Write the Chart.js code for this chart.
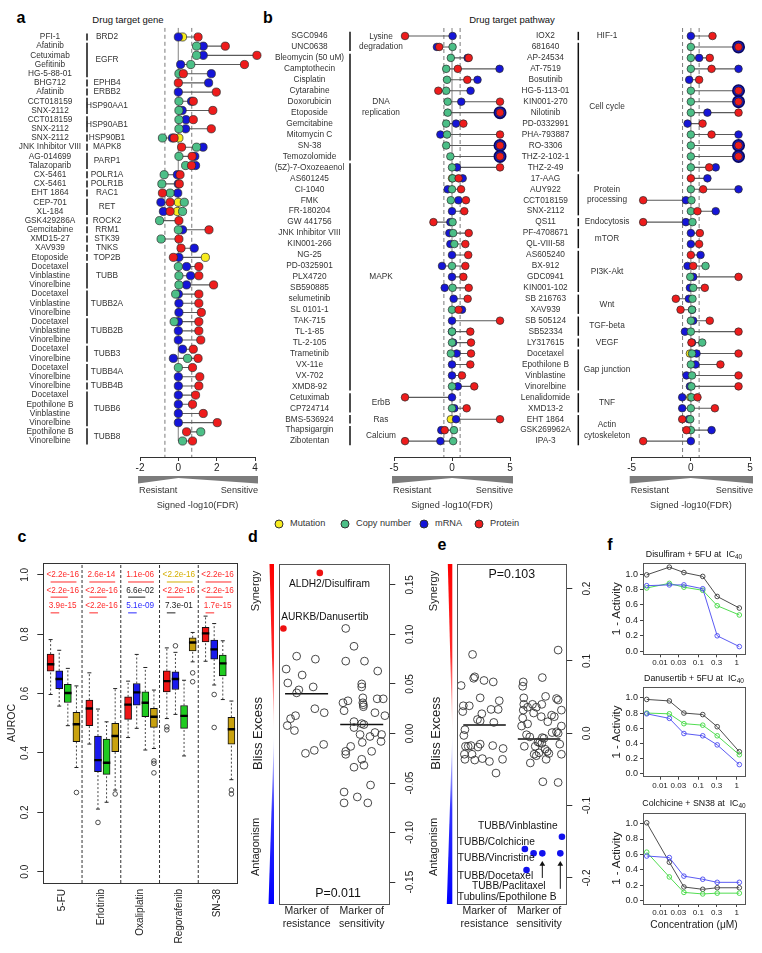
<!DOCTYPE html>
<html>
<head>
<meta charset="utf-8">
<title>Drug target markers</title>
<script src="https://cdn.jsdelivr.net/npm/chart.js@4.4.1/dist/chart.umd.min.js"></script>
<style>
  html, body { margin: 0; padding: 0; background: #fff; }
  #fig { position: relative; width: 762px; height: 953px; overflow: hidden;
         font-family: 'Liberation Sans', Arial, sans-serif; color: #222; }
  #fig canvas { position: absolute; }
  .t { position: absolute; white-space: nowrap; line-height: 1; transform: translate(-50%, -50%); }
  .l { position: absolute; white-space: nowrap; line-height: 1; transform: translate(0, -50%); font-size: 9.2px; color: #333; }
  .letter { font-weight: bold; font-size: 16px; color: #000; }
  .title { font-size: 9.5px; color: #111; }
  .dot { position: absolute; width: 7px; height: 7px; border-radius: 50%; border: 0.8px solid #333; transform: translate(-50%, -50%); }
</style>
</head>
<body>
<div id="fig">
  <div class="t letter" style="left:21px;top:18px">a</div>
  <div class="t letter" style="left:268px;top:18px">b</div>
  <div class="t letter" style="left:22px;top:537px">c</div>
  <div class="t letter" style="left:253px;top:537px">d</div>
  <div class="t letter" style="left:442px;top:545px">e</div>
  <div class="t letter" style="left:610px;top:545px">f</div>
  <div class="t title" style="left:128px;top:20px">Drug target gene</div>
  <div class="t title" style="left:512px;top:20px">Drug target pathway</div>

  <div class="dot" style="left:279px;top:524px;background:#f8ec1e"></div>
  <div class="l" style="left:290px;top:524px">Mutation</div>
  <div class="dot" style="left:345px;top:524px;background:#4cbf87"></div>
  <div class="l" style="left:356px;top:524px">Copy number</div>
  <div class="dot" style="left:424px;top:524px;background:#1515d8"></div>
  <div class="l" style="left:435px;top:524px">mRNA</div>
  <div class="dot" style="left:479px;top:524px;background:#ee1c1c"></div>
  <div class="l" style="left:490px;top:524px">Protein</div>

  <canvas id="cA" width="262" height="520" style="left:0;top:0"></canvas>
  <canvas id="cBL" width="258" height="520" style="left:262px;top:0"></canvas>
  <canvas id="cBR" width="252" height="520" style="left:510px;top:0"></canvas>
  <canvas id="cC" width="245" height="423" style="left:0;top:530px"></canvas>
  <canvas id="cD" width="180" height="423" style="left:245px;top:530px"></canvas>
  <canvas id="cE" width="175" height="423" style="left:425px;top:530px"></canvas>
  <canvas id="cF1" width="167" height="135" style="left:595px;top:540px"></canvas>
  <canvas id="cF2" width="167" height="135" style="left:595px;top:665px"></canvas>
  <canvas id="cF3" width="167" height="160" style="left:595px;top:790px"></canvas>
</div>
<script>
// ---------------- panel a : drug target gene ----------------
const aDrugs = ['PFI-1', 'Afatinib', 'Cetuximab', 'Gefitinib', 'HG-5-88-01', 'BHG712', 'Afatinib',
  'CCT018159', 'SNX-2112', 'CCT018159', 'SNX-2112', 'SNX-2112', 'JNK Inhibitor VIII', 'AG-014699',
  'Talazoparib', 'CX-5461', 'CX-5461', 'EHT 1864', 'CEP-701', 'XL-184', 'GSK429286A', 'Gemcitabine',
  'XMD15-27', 'XAV939', 'Etoposide', 'Docetaxel', 'Vinblastine', 'Vinorelbine', 'Docetaxel',
  'Vinblastine', 'Vinorelbine', 'Docetaxel', 'Vinblastine', 'Vinorelbine', 'Docetaxel', 'Vinorelbine',
  'Docetaxel', 'Vinorelbine', 'Vinorelbine', 'Docetaxel', 'Epothilone B', 'Vinblastine', 'Vinorelbine',
  'Epothilone B', 'Vinorelbine'];
const aGenes = [['BRD2', 1], ['EGFR', 4], ['EPHB4', 1], ['ERBB2', 1], ['HSP90AA1', 2], ['HSP90AB1', 2],
  ['HSP90B1', 1], ['MAPK8', 1], ['PARP1', 2], ['POLR1A', 1], ['POLR1B', 1], ['RAC1', 1], ['RET', 2],
  ['ROCK2', 1], ['RRM1', 1], ['STK39', 1], ['TNKS', 1], ['TOP2B', 1], ['TUBB', 3], ['TUBB2A', 3],
  ['TUBB2B', 3], ['TUBB3', 2], ['TUBB4A', 2], ['TUBB4B', 1], ['TUBB6', 4], ['TUBB8', 2]];
const aProtein = [1.03, 2.45, 4.1, 3.45, 0.26, 0, 1.98, 0.78, 1.8, 0.78,
  1.72, -0.22, 0.17, 0.72, 0.69, 0.09, 0.05, -0.83, -0.43, -0.43,
  0.03, 1.6, 0.03, 0.14, -0.26, 1.07, 1.07, 1.84, 1.07, 1.07,
  1.2, 1.07, 1.07, 1.17, 0.78, 1.03, 0.74, 1.12, 1.07, 0.9,
  0.74, 1.3, 2.03, 0.43, 0.74];
const aCopyNumber = [null, 0.95, 0.95, 0.65, 0.03, null, null, 0.03, 0.03, 0.03,
  0.03, -0.83, 0.95, 0.03, 0.38, -0.74, -0.86, -0.43, 0.31, 0.22,
  -0.98, 0, -0.9, null, null, 0, 0.03, 0.03, -0.14, null,
  null, -0.22, null, null, null, 0.48, 0, null, null, null,
  null, null, null, 1.17, 0.22];
const aMrna = [0, 1.3, 1.3, 0.12, 1.72, 1.58, 0, 0.69, 0.2, 0.4,
  0.38, -0.31, 1.29, 0.86, 0.9, -0.05, 0, -0.03, -0.91, -0.78,
  null, 0.22, null, 0.83, 0.03, 0.43, 0.64, 0.43, 0, 0.03,
  0.03, 0, 0, 0, 0.22, -0.26, null, 0, 0, 0,
  0, 0, 0, null, null];
const aMutation = [0.22, null, null, null, null, null, null, null, null, null,
  null, 0.03, null, null, null, null, null, null, 0, -0.05,
  null, null, null, null, 1.41, null, null, null, null, null,
  null, null, null, null, null, null, null, null, null, null,
  null, null, null, null, null];

// ---------------- panel b : drug target pathway ----------------
const bLeftDrugs = ['SGC0946', 'UNC0638', 'Bleomycin (50 uM)', 'Camptothecin', 'Cisplatin', 'Cytarabine',
  'Doxorubicin', 'Etoposide', 'Gemcitabine', 'Mitomycin C', 'SN-38', 'Temozolomide', '(5Z)-7-Oxozeaenol',
  'AS601245', 'CI-1040', 'FMK', 'FR-180204', 'GW 441756', 'JNK Inhibitor VIII', 'KIN001-266', 'NG-25',
  'PD-0325901', 'PLX4720', 'SB590885', 'selumetinib', 'SL 0101-1', 'TAK-715', 'TL-1-85', 'TL-2-105',
  'Trametinib', 'VX-11e', 'VX-702', 'XMD8-92', 'Cetuximab', 'CP724714', 'BMS-536924', 'Thapsigargin',
  'Zibotentan'];
const bLeftPathways = [['Lysine\ndegradation', 2], ['DNA\nreplication', 10], ['MAPK', 21], ['ErbB', 2],
  ['Ras', 1], ['Calcium', 2]];
const bLeftProtein = [-4.05, -1.1, 1.44, 0.5, 1.32, -1.18, 4.14, 4.14, 0.98, 4.14,
  4.14, 4.14, 4.14, 0.57, 0.78, 1.2, 1.06, -1.6, 1.44, 1.15,
  1.4, 1.15, 0.98, 1.44, 1.35, 0.57, 4.14, 1.58, 1.64, 1.64,
  1.58, 0.86, 1.92, -4.05, 1.26, 4.14, -0.63, -4.05];
const bLeftCopyNumber = [null, 0.05, -0.1, -0.5, -0.43, -0.5, -0.37, -0.37, -0.5, -0.43,
  -0.5, -0.14, 0, 0.05, 0, -0.1, null, 0.05, 0.1, 0.2,
  null, 0, null, 0.05, null, 0, null, 0, 0, -0.1,
  null, null, 0, null, 0, null, 0.17, 0.1];
const bLeftMrna = [0.05, -1.3, 1.35, 4.1, 2.2, 1.6, 0.8, 4.14, 0.35, -1.0,
  4.14, 4.14, 0.43, 0.92, -0.37, 0.55, 0, -0.14, -0.23, -0.14,
  0, -0.86, 0, -0.63, 0.14, 0.86, 0, 0, 0.1, 0.4,
  0, 0, 0.5, 0, 0.2, 0.35, -0.92, -1.0];
const bLeftMutation = [null, null, null, null, null, null, null, null, null, null,
  null, null, null, 0, null, null, null, null, null, null,
  null, null, null, null, null, null, null, null, null, null,
  null, null, null, null, null, -0.1, null, null];

const bRightDrugs = ['IOX2', '681640', 'AP-24534', 'AT-7519', 'Bosutinib', 'HG-5-113-01', 'KIN001-270',
  'Nilotinib', 'PD-0332991', 'PHA-793887', 'RO-3306', 'THZ-2-102-1', 'THZ-2-49', '17-AAG', 'AUY922',
  'CCT018159', 'SNX-2112', 'QS11', 'PF-4708671', 'QL-VIII-58', 'AS605240', 'BX-912', 'GDC0941',
  'KIN001-102', 'SB 216763', 'XAV939', 'SB 505124', 'SB52334', 'LY317615', 'Docetaxel', 'Epothilone B',
  'Vinblastine', 'Vinorelbine', 'Lenalidomide', 'XMD13-2', 'EHT 1864', 'GSK269962A', 'IPA-3'];
const bRightPathways = [['HIF-1', 1], ['Cell cycle', 12], ['Protein\nprocessing', 4], ['Endocytosis', 1],
  ['mTOR', 2], ['PI3K-Akt', 4], ['Wnt', 2], ['TGF-beta', 2], ['VEGF', 1], ['Gap junction', 4],
  ['TNF', 2], ['Actin\ncytoskeleton', 3]];
const bRightProtein = [1.83, 4.03, 1.6, 1.75, 0.7, 4.03, 4.03, 4.03, 0.99, 1.75,
  4.03, 4.03, 1.55, 0, 1.04, -4.03, 0.56, -4.03, 0.76, 0.7,
  0, 0.2, 4.03, 1.18, -1.27, -0.87, 1.6, 4.03, 0.05, 4.03,
  2.5, 4.03, 4.03, 0.56, 2.03, -0.73, -0.37, -4.03];
const bRightCopyNumber = [null, 0, 0, 0, null, 0, 0, 0, null, 0,
  0, 0, 0, null, 0, 0.05, 0, 0.14, null, null,
  null, 1.24, -0.05, 0.2, 0.14, 0.1, 0, 0, 0.96, 0.1,
  0, 0.1, 0.05, 0.05, 0, -0.05, 0, null];
const bRightMrna = [0, 4.03, 0.7, 4.03, -0.14, 4.03, 4.03, 1.4, -0.28, 4.03,
  4.03, 4.03, 2.1, 1.4, 4.03, -0.42, 2.1, -0.42, 0, 0,
  0.82, -0.28, 0.2, -0.08, -0.17, 0.1, 0.2, -0.5, 0.1, 0.48,
  0.4, -0.37, -0.08, -0.73, -0.73, -0.17, 1.75, 0];
const bRightMutation = [null, null, null, null, null, null, null, null, null, null,
  null, null, null, null, null, null, null, null, null, null,
  null, null, null, null, null, null, null, null, null, -0.08,
  null, null, null, -0.05, null, null, null, null];

// ---------------- panel c : AUROC boxplots ----------------
const cDrugs = ['5-FU', 'Erlotinib', 'Oxaliplatin', 'Regorafenib', 'SN-38'];
// [lower whisker, Q1, median, Q3, upper whisker]
const cProtein = [[0.597, 0.676, 0.699, 0.733, 0.782], [0.43, 0.492, 0.55, 0.578, 0.67],
  [0.452, 0.513, 0.563, 0.589, 0.642], [0.516, 0.606, 0.642, 0.677, 0.754], [0.709, 0.774, 0.803, 0.823, 0.861]];
const cMrna = [[0.558, 0.617, 0.649, 0.677, 0.746], [0.211, 0.337, 0.376, 0.457, 0.548],
  [0.483, 0.561, 0.604, 0.634, 0.732], [0.53, 0.614, 0.649, 0.673, 0.739], [0.629, 0.716, 0.749, 0.78, 0.836]];
const cCopyNumber = [[0.492, 0.57, 0.602, 0.631, 0.685], [0.234, 0.328, 0.367, 0.447, 0.505],
  [0.41, 0.522, 0.569, 0.606, 0.688], [0.39, 0.483, 0.525, 0.56, 0.645], [0.58, 0.66, 0.702, 0.73, 0.778]];
const cMutation = [[0.351, 0.438, 0.497, 0.537, 0.626], [0.275, 0.404, 0.457, 0.5, 0.617],
  [0.415, 0.486, 0.522, 0.55, 0.612], [0.707, 0.744, 0.772, 0.788, 0.806], [0.31, 0.43, 0.48, 0.52, 0.575]];
const cOutProtein = [[], [], [], [0.488, 0.478], []];
const cOutMrna = [[], [0.166], [], [0.761], [0.597, 0.486]];
const cOutCopyNumber = [[], [], [], [], []];
const cOutMutation = [[0.267], [0.262], [0.373, 0.365, 0.333], [0.67, 0.64], [0.275, 0.262]];
const cPvalues = [['<2.2e-16', '2.6e-14', '1.1e-06', '<2.2e-16', '<2.2e-16'],
  ['<2.2e-16', '<2.2e-16', '6.6e-02', '<2.2e-16', '<2.2e-16'],
  ['3.9e-15', '<2.2e-16', '5.1e-09', '7.3e-01', '1.7e-15']];
const cPvalueColour = [['r', 'r', 'r', 'y', 'r'], ['r', 'r', 'k', 'r', 'r'], ['r', 'r', 'b', 'k', 'r']];
const cYTicks = [0, 0.2, 0.4, 0.6, 0.8, 1.0];
const cYLabels = ['0.0', '0.2', '0.4', '0.6', '0.8', '1.0'];

// ---------------- panels d, e : Bliss excess ----------------
const dResistance = [[0.82, 0.078], [1.16, 0.075], [0.63, 0.065], [0.92, 0.059], [0.66, 0.051], [1.12, 0.047],
  [0.86, 0.044], [0.82, 0.041], [1.15, 0.025], [1.32, 0.021], [0.80, 0.018], [0.71, 0.015], [0.65, 0.008],
  [0.78, 0.003], [1.31, -0.011], [1.14, -0.017], [0.98, -0.020]];
const dSensitivity = [[1.71, 0.106], [1.86, 0.088], [1.71, 0.073], [2.05, 0.073], [2.29, 0.063], [2.00, 0.050],
  [2.00, 0.047], [2.02, 0.036], [1.75, 0.033], [2.28, 0.035], [2.39, 0.035], [1.66, 0.031], [2.02, 0.031],
  [2.03, 0.029], [2.03, 0.027], [1.68, 0.023], [2.24, 0.021], [2.42, 0.018], [1.86, 0.012], [2.00, 0.010],
  [2.04, 0.009], [1.86, 0.006], [2.24, 0.001], [2.36, -0.001], [1.97, -0.001], [2.15, -0.003], [1.80, -0.013],
  [1.71, -0.018], [1.71, -0.021], [2.01, -0.009], [2.35, -0.008], [2.18, -0.018], [2.00, -0.026], [2.04, -0.032],
  [1.86, -0.034], [2.16, -0.052], [1.68, -0.059], [1.92, -0.064], [1.68, -0.070], [2.11, -0.070]];
const dHighlight = [[1.24, 0.162], [0.58, 0.106]];
const dMedians = [0.040, 0.009];
const dNotes = [['ALDH2/Disulfiram', 0.68, 0.151], ['AURKB/Danusertib', 0.54, 0.117]];
const dYTicks = [-0.15, -0.1, -0.05, 0, 0.05, 0.1, 0.15];
const dYLabels = ['-0.15', '-0.10', '-0.05', '0.00', '0.05', '0.10', '0.15'];

const eResistance = [[0.78, 0.109], [0.57, 0.066], [0.82, 0.078], [0.80, 0.076], [0.99, 0.073], [1.16, 0.071],
  [0.92, 0.049], [0.61, 0.038], [0.72, 0.038], [0.60, 0.030], [1.27, 0.045], [1.12, 0.033], [1.25, 0.033],
  [0.95, 0.027], [0.87, 0.019], [0.92, 0.017], [1.17, 0.015], [0.64, 0.005], [0.62, -0.003], [0.65, -0.018],
  [0.70, -0.018], [0.75, -0.017], [0.92, -0.015], [0.88, -0.019], [1.15, -0.017], [1.34, -0.021], [0.63, -0.029],
  [0.77, -0.029], [0.64, -0.036], [0.82, -0.037], [0.96, -0.035], [1.09, -0.039], [1.33, -0.036], [1.21, -0.055]];
const eSensitivity = [[2.35, 0.115], [1.71, 0.071], [1.70, 0.065], [2.06, 0.077], [2.12, 0.051], [1.72, 0.049],
  [1.72, 0.040], [1.88, 0.040], [2.05, 0.040], [2.32, 0.048], [2.35, 0.046], [1.79, 0.036], [1.95, 0.036],
  [2.41, 0.032], [1.71, 0.032], [1.90, 0.028], [2.23, 0.025], [2.28, 0.023], [1.70, 0.021], [2.04, 0.023],
  [2.16, 0.016], [1.79, 0.013], [1.68, 0.010], [2.41, 0.010], [2.24, 0.001], [2.32, 0.002], [1.77, -0.002],
  [1.83, -0.005], [2.06, -0.006], [2.09, -0.007], [2.35, 0.000], [1.98, -0.012], [2.01, -0.013], [2.05, -0.014],
  [2.38, -0.015], [1.73, -0.018], [1.93, -0.018], [2.11, -0.022], [2.15, -0.025], [2.41, -0.029], [1.91, -0.029],
  [2.00, -0.027], [2.18, -0.028], [1.95, -0.031], [2.13, -0.036], [1.84, -0.041], [2.07, -0.067], [2.35, -0.068]];
const eHighlight = [[2.42, -0.143], [1.74, -0.160], [1.90, -0.166], [2.06, -0.166], [2.39, -0.166], [1.77, -0.189]];
const eMedians = [0.0115, -0.008];
const eNotes = [['TUBB/Vinblastine', 0.88, -0.129], ['TUBB/Colchicine', 0.51, -0.150],
  ['TUBB/Vincristine', 0.51, -0.173], ['TUBB/Docetaxel', 0.51, -0.197], ['TUBB/Paclitaxel', 0.77, -0.211],
  ['Tubulins/Epothilone B', 0.51, -0.226]];
const eArrows = [[2.06, -0.200, -0.181], [2.39, -0.215, -0.181]];
const eYTicks = [-0.2, -0.1, 0, 0.1, 0.2];
const eYLabels = ['-0.2', '-0.1', '0.0', '0.1', '0.2'];

// ---------------- panel f : dose response ----------------
const fConcentration = [0.0045, 0.0175, 0.042, 0.13, 0.31, 1.17];
const fXTicks = [0.01, 0.03, 0.1, 0.3, 1];
const fYTicks = [0, 0.2, 0.4, 0.6, 0.8, 1.0];
const f1Black = [0.99, 1.09, 1.02, 0.97, 0.71, 0.56];
const f1Green = [0.82, 0.88, 0.83, 0.79, 0.59, 0.47];
const f1Blue = [0.85, 0.86, 0.86, 0.81, 0.20, 0.06];
const f2Black = [0.98, 0.96, 0.80, 0.78, 0.62, 0.29];
const f2Green = [0.80, 0.79, 0.66, 0.64, 0.50, 0.25];
const f2Blue = [0.79, 0.73, 0.53, 0.50, 0.38, 0.12];
const f3Black = [1.01, 0.50, 0.18, 0.15, 0.17, 0.17];
const f3Green = [0.63, 0.31, 0.11, 0.09, 0.10, 0.10];
const f3Blue = [0.58, 0.56, 0.32, 0.28, 0.24, 0.24];

// ================= drawing =================
const FONT = "'Liberation Sans', Arial, sans-serif";
Chart.defaults.font.family = FONT;
Chart.defaults.font.size = 10;
Chart.defaults.color = '#222';
Chart.defaults.animation = false;
Chart.defaults.responsive = false;
Chart.defaults.devicePixelRatio = 1;
Chart.defaults.events = [];
Chart.defaults.plugins.legend.display = false;
Chart.defaults.plugins.tooltip.enabled = false;

const RED = '#ee1c1c', GREEN = '#4cbf87', BLUE = '#1515d8', YELLOW = '#f8ec1e';
const FDR_LINE = 0.7;

const meas = document.createElement('canvas').getContext('2d');
function textWidth(s, size) { meas.font = 'normal ' + size + 'px ' + FONT; return meas.measureText(s).width; }

function drawText(ctx, s, x, y, o) {
  o = o || {};
  ctx.save();
  ctx.font = (o.bold ? 'bold ' : '') + (o.size || 10) + 'px ' + FONT;
  ctx.fillStyle = o.color || '#222';
  ctx.textAlign = o.align || 'center';
  ctx.textBaseline = o.base || 'middle';
  ctx.translate(x, y);
  if (o.rot) ctx.rotate(o.rot);
  ctx.fillText(s, 0, 0);
  ctx.restore();
}
function frame(chart, col) {
  const a = chart.chartArea, ctx = chart.ctx;
  ctx.save();
  ctx.strokeStyle = col || '#444';
  ctx.lineWidth = 1;
  ctx.strokeRect(Math.round(a.left) + 0.5, Math.round(a.top) + 0.5,
    Math.round(a.right - a.left), Math.round(a.bottom - a.top));
  ctx.restore();
}
const fixW = w => s => { s.width = w; s.paddingTop = 0; s.paddingBottom = 0; s.paddingLeft = 0; s.paddingRight = 0; };
const fixH = h => s => { s.height = h; s.paddingTop = 0; s.paddingBottom = 0; s.paddingLeft = 0; s.paddingRight = 0; };
const setTicks = list => s => { s.ticks = list.map(v => ({value: v})); };

// ---- lollipop panels (a, b) ----
function lollipop(id, L) {
  const N = L.names.length;
  const series = [L.prot, L.cnv, L.mrna, L.mut];
  const cols = [RED, GREEN, BLUE, YELLOW];
  const toPts = arr => arr.map((v, i) => (v === null ? null : {x: v, y: i})).filter(p => p);
  const segs = [];
  for (let i = 0; i < N; i++) {
    const v = series.map(s => s[i]).filter(x => x !== null);
    const lo = Math.min.apply(null, v), hi = Math.max.apply(null, v);
    segs.push({x: lo, y: i}, {x: hi, y: i}, {x: hi, y: null});
  }
  const capped = c => {
    const i = c.raw ? c.raw.y : -1;
    return i >= 0 && L.prot[i] !== null && L.mrna[i] !== null && L.prot[i] >= 4 && L.mrna[i] >= 4;
  };
  const pointSet = (k, extra) => Object.assign({
    type: 'scatter', data: toPts(series[k]), clip: false,
    pointRadius: L.r, pointBackgroundColor: cols[k], pointBorderColor: '#2a2a2a', pointBorderWidth: 0.7
  }, extra || {});
  const widest = Math.max.apply(null, L.names.map(n => textWidth(n, L.fs)));

  new Chart(document.getElementById(id), {
    type: 'scatter',
    data: {
      datasets: [
        pointSet(0),
        pointSet(1),
        pointSet(2, {
          pointRadius: c => (capped(c) ? L.r + 1.9 : L.r),
          pointBorderWidth: c => (capped(c) ? 1.6 : 0.7),
          pointBorderColor: c => (capped(c) ? '#0a0a60' : '#2a2a2a')
        }),
        pointSet(3),
        {type: 'line', data: segs, borderColor: '#5a5a5a', borderWidth: 1.1, pointRadius: 0, spanGaps: false},
        {type: 'line', data: [{x: 0, y: L.ymin}, {x: 0, y: N - 1}], borderColor: '#a0a0a0', borderWidth: 1.3, pointRadius: 0},
        {type: 'line', data: [{x: -FDR_LINE, y: L.ymin}, {x: -FDR_LINE, y: L.ymax}, {x: -FDR_LINE, y: null},
          {x: FDR_LINE, y: L.ymin}, {x: FDR_LINE, y: L.ymax}],
          borderColor: '#7a7a7a', borderWidth: 1, borderDash: [4, 3], pointRadius: 0, spanGaps: false}
      ]
    },
    options: {
      layout: {padding: {left: 0, right: L.padR, top: L.padT, bottom: L.padB}},
      scales: {
        x: {
          type: 'linear', min: L.xmin, max: L.xmax,
          afterBuildTicks: setTicks(L.xticks), afterFit: fixH(22),
          border: {display: true, color: '#333', width: 1},
          grid: {display: true, drawOnChartArea: false, drawTicks: true, tickLength: 4, color: '#333'},
          ticks: {font: {size: 10}, color: '#222', padding: 1, callback: v => String(v)}
        },
        y: {
          type: 'linear', reverse: true, min: L.ymin, max: L.ymax,
          afterBuildTicks: setTicks(L.names.map((_, i) => i)), afterFit: fixW(L.axisW),
          border: {display: false}, grid: {display: false, drawTicks: false},
          ticks: {autoSkip: false, crossAlign: 'center', padding: L.axisW - L.nameX - widest / 2,
            font: {size: L.fs}, color: '#333', callback: v => L.names[v]}
        }
      }
    },
    plugins: [{
      id: 'groups',
      afterDraw(chart) {
        const ctx = chart.ctx, ys = chart.scales.y, xs = chart.scales.x;
        ctx.save();
        ctx.strokeStyle = '#111';
        ctx.lineWidth = 1.5;
        let start = 0;
        L.groups.forEach(g => {
          const n = g[1];
          const y1 = ys.getPixelForValue(start - 0.38), y2 = ys.getPixelForValue(start + n - 1 + 0.38);
          ctx.beginPath(); ctx.moveTo(L.bracketX, y1); ctx.lineTo(L.bracketX, y2); ctx.stroke();
          const lines = g[0].split('\n'), mid = (y1 + y2) / 2;
          lines.forEach((s, j) => drawText(ctx, s, L.groupX, mid + (j - (lines.length - 1) / 2) * L.lineGap,
            {size: L.fs, color: '#333'}));
          start += n;
        });
        // resistant / sensitive wedge under the axis
        const top = chart.chartArea.bottom + 19;
        const xl = xs.left - 2, xr = xs.right + 3, x0 = xs.getPixelForValue(0);
        ctx.fillStyle = '#7c7c7c';
        ctx.beginPath();
        ctx.moveTo(xl, top); ctx.lineTo(xr, top); ctx.lineTo(xr, top + 7.5);
        ctx.lineTo(x0, top + 2); ctx.lineTo(xl, top + 7.5); ctx.closePath(); ctx.fill();
        drawText(ctx, 'Resistant', xl + 1, top + 14.5, {size: 9.2, align: 'left', color: '#333'});
        drawText(ctx, 'Sensitive', xr, top + 14.5, {size: 9.2, align: 'right', color: '#333'});
        drawText(ctx, 'Signed -log10(FDR)', (xs.left + xs.right) / 2, top + 29.5, {size: 9.2, color: '#333'});
        ctx.restore();
      }
    }]
  });
}

lollipop('cA', {names: aDrugs, groups: aGenes, prot: aProtein, cnv: aCopyNumber, mrna: aMrna, mut: aMutation,
  xmin: -2, xmax: 4, xticks: [-2, 0, 2, 4], ymin: -1, ymax: 45.74, axisW: 140, padR: 7, padT: 27.8, padB: 41,
  nameX: 50, bracketX: 87, groupX: 107, fs: 8.3, r: 4.1, lineGap: 10});
lollipop('cBL', {names: bLeftDrugs, groups: bLeftPathways, prot: bLeftProtein, cnv: bLeftCopyNumber,
  mrna: bLeftMrna, mut: bLeftMutation, xmin: -5, xmax: 5, xticks: [-5, 0, 5], ymin: -0.73, ymax: 38.45,
  axisW: 132, padR: 10, padT: 28, padB: 41, nameX: 47.5, bracketX: 88, groupX: 119, fs: 8.3, r: 3.8, lineGap: 10.5});
lollipop('cBR', {names: bRightDrugs, groups: bRightPathways, prot: bRightProtein, cnv: bRightCopyNumber,
  mrna: bRightMrna, mut: bRightMutation, xmin: -5, xmax: 5, xticks: [-5, 0, 5], ymin: -0.73, ymax: 38.45,
  axisW: 121.7, padR: 12, padT: 28, padB: 41, nameX: 35.5, bracketX: 68.3, groupX: 97, fs: 8.3, r: 3.8, lineGap: 10.5});

// ---- panel c ----
(function () {
  const C_RED = '#ee1515', C_BLUE = '#1a1aee', C_GREEN = '#1fcb1f', C_GOLD = '#c9a20f';
  const PCOL = {r: '#ff2a2a', y: '#d4ae00', k: '#222', b: '#2b2bff'};
  const GROUP_W = 4.5, YMIN = -0.038, YMAX = 1.04;
  const P_TEXT_Y = [0.999, 0.946, 0.897], P_LINE_Y = [0.976, 0.925, 0.872];
  const types = [cProtein, cMrna, cCopyNumber, cMutation];
  const outs = [cOutProtein, cOutMrna, cOutCopyNumber, cOutMutation];
  const cols = [C_RED, C_BLUE, C_GREEN, C_GOLD];
  const bx = (g, k) => g * GROUP_W + 0.85 + k;
  const boxes = [], boxCols = [], medians = [], caps = [], whisk = [], outliers = [];
  cDrugs.forEach((_, g) => types.forEach((t, k) => {
    const s = t[g], x = bx(g, k);
    boxes.push({x: x, y: [s[1], s[3]]});
    boxCols.push(cols[k]);
    medians.push({x: x, y: s[2]});
    caps.push({x: x, y: s[0]}, {x: x, y: s[4]});
    whisk.push({x: x, y: s[3]}, {x: x, y: s[4]}, {x: x, y: null}, {x: x, y: s[0]}, {x: x, y: s[1]}, {x: x, y: null});
    outs[k][g].forEach(v => outliers.push({x: x, y: v}));
  }));
  const seps = [];
  for (let g = 1; g < cDrugs.length; g++) {
    seps.push({x: g * GROUP_W, y: YMIN}, {x: g * GROUP_W, y: YMAX}, {x: g * GROUP_W, y: null});
  }
  const under = {};
  cPvalues.forEach((row, r) => row.forEach((_, g) => {
    const c = cPvalueColour[r][g];
    (under[c] = under[c] || []).push({x: bx(g, 0), y: P_LINE_Y[r]}, {x: bx(g, 3 - r), y: P_LINE_Y[r]},
      {x: bx(g, 3 - r), y: null});
  }));
  const underSets = Object.keys(under).map(c => ({type: 'line', data: under[c], borderColor: PCOL[c],
    borderWidth: 1, pointRadius: 0, spanGaps: false}));

  new Chart(document.getElementById('cC'), {
    type: 'bar',
    data: {
      datasets: [
        {type: 'scatter', data: medians, pointStyle: 'line', pointRadius: 3.7, pointBorderWidth: 2.4, pointBorderColor: '#000'},
        {type: 'scatter', data: caps, pointStyle: 'line', pointRadius: 2, pointBorderWidth: 1, pointBorderColor: '#222'},
        {type: 'scatter', data: outliers, pointRadius: 2.3, pointBorderWidth: 0.8,
          pointBackgroundColor: 'rgba(0,0,0,0)', pointBorderColor: '#222'},
        {type: 'bar', data: boxes, backgroundColor: boxCols, borderColor: '#111', borderWidth: 1,
          borderSkipped: false, barThickness: 7},
        {type: 'line', data: whisk, borderColor: '#333', borderWidth: 0.9, borderDash: [2, 2], pointRadius: 0, spanGaps: false},
        {type: 'line', data: seps, borderColor: '#333', borderWidth: 1, borderDash: [3, 2], pointRadius: 0, spanGaps: false}
      ].concat(underSets)
    },
    options: {
      layout: {padding: {left: 0, right: 8, top: 33, bottom: 10}},
      scales: {
        x: {
          type: 'linear', min: 0, max: GROUP_W * cDrugs.length, offset: false,
          afterBuildTicks: setTicks(cDrugs.map((_, g) => g * GROUP_W + GROUP_W / 2)), afterFit: fixH(60),
          border: {display: false}, grid: {display: false, drawTicks: false, offset: false},
          ticks: {autoSkip: false, minRotation: 90, maxRotation: 90, padding: 6, font: {size: 10},
            color: '#222', callback: (v, i) => cDrugs[i]}
        },
        y: {
          type: 'linear', min: YMIN, max: YMAX,
          afterBuildTicks: setTicks(cYTicks), afterFit: fixW(43.3),
          border: {display: false},
          grid: {display: true, drawOnChartArea: false, drawTicks: true, tickLength: 6, color: '#333'},
          ticks: {display: false}
        }
      }
    },
    plugins: [{
      id: 'boxDeco',
      afterDraw(chart) {
        const ctx = chart.ctx, xs = chart.scales.x, ys = chart.scales.y, a = chart.chartArea;
        frame(chart, '#333');
        cYTicks.forEach((v, i) => drawText(ctx, cYLabels[i], a.left - 18, ys.getPixelForValue(v),
          {size: 10, rot: -Math.PI / 2}));
        drawText(ctx, 'AUROC', 12, (a.top + a.bottom) / 2, {size: 10.5, rot: -Math.PI / 2});
        cPvalues.forEach((row, r) => row.forEach((s, g) => drawText(ctx, s,
          xs.getPixelForValue(g * GROUP_W + GROUP_W / 2), ys.getPixelForValue(P_TEXT_Y[r]),
          {size: 8.2, color: PCOL[cPvalueColour[r][g]]})));
      }
    }]
  });
})();

// ---- panels d, e ----
function bliss(id, B) {
  const pts = arr => arr.map(p => ({x: p[0], y: p[1]}));
  const med = [];
  B.medians.forEach((m, i) => {
    const c = i + 1;
    med.push({x: c - 0.39, y: m}, {x: c + 0.39, y: m}, {x: c + 0.39, y: null});
  });
  const arrowLines = [], arrowHeads = [];
  (B.arrows || []).forEach(a => {
    arrowLines.push({x: a[0], y: a[1]}, {x: a[0], y: a[2]}, {x: a[0], y: null});
    arrowHeads.push({x: a[0], y: a[2]});
  });
  new Chart(document.getElementById(id), {
    type: 'scatter',
    data: {
      datasets: [
        {data: pts(B.highlight), pointRadius: 3.3, pointBorderWidth: 0, pointBackgroundColor: B.hiColor, clip: false},
        {data: pts(B.res).concat(pts(B.sens)), pointRadius: 3.9, pointBorderWidth: 0.9,
          pointBackgroundColor: 'rgba(255,255,255,0)', pointBorderColor: '#333'},
        {type: 'line', data: med, borderColor: '#111', borderWidth: 1.5, pointRadius: 0, spanGaps: false},
        {data: arrowHeads, pointStyle: 'triangle', pointRadius: 3.3, pointBorderWidth: 0, pointBackgroundColor: '#111'},
        {type: 'line', data: arrowLines, borderColor: '#111', borderWidth: 1, pointRadius: 0, spanGaps: false}
      ]
    },
    options: {
      layout: {padding: {left: B.padL, right: 0, top: 34, bottom: 9}},
      scales: {
        x: {
          type: 'linear', min: 0.5, max: 2.5,
          afterBuildTicks: setTicks([1, 2]), afterFit: fixH(40),
          border: {display: false}, grid: {display: false, drawTicks: false},
          ticks: {padding: 1, font: {size: 10.5, lineHeight: 1.22}, color: '#222',
            callback: v => (v === 1 ? ['Marker of', 'resistance'] : ['Marker of', 'sensitivity'])}
        },
        y: {
          type: 'linear', position: 'right', min: B.ymin, max: B.ymax,
          afterBuildTicks: setTicks(B.yticks), afterFit: fixW(B.axisW),
          border: {display: false},
          grid: {display: true, drawOnChartArea: false, drawTicks: true, tickLength: 6, color: '#333'},
          ticks: {display: false}
        }
      }
    },
    plugins: [{
      id: 'blissDeco',
      afterDraw(chart) {
        const ctx = chart.ctx, xs = chart.scales.x, ys = chart.scales.y, a = chart.chartArea;
        frame(chart, '#555');
        B.yticks.forEach((v, i) => drawText(ctx, B.ylabels[i], a.right + 21, ys.getPixelForValue(v),
          {size: 10, rot: -Math.PI / 2}));
        // synergy / antagonism wedge
        const xr = a.left - 5, mid = ys.getPixelForValue(0);
        let g = ctx.createLinearGradient(0, a.top, 0, mid);
        g.addColorStop(0, '#ff0000'); g.addColorStop(0.55, '#ff2d2d'); g.addColorStop(1, '#ffffff');
        ctx.save();
        ctx.fillStyle = g;
        ctx.beginPath(); ctx.moveTo(xr - 4.5, a.top); ctx.lineTo(xr, a.top); ctx.lineTo(xr, mid); ctx.closePath(); ctx.fill();
        g = ctx.createLinearGradient(0, mid, 0, a.bottom);
        g.addColorStop(0, '#ffffff'); g.addColorStop(0.45, '#3333ff'); g.addColorStop(1, '#0000ff');
        ctx.fillStyle = g;
        ctx.beginPath(); ctx.moveTo(xr, mid); ctx.lineTo(xr, a.bottom); ctx.lineTo(xr - 5.5, a.bottom); ctx.closePath(); ctx.fill();
        ctx.restore();
        drawText(ctx, 'Synergy', a.left - 23, a.top + 27, {size: 11, rot: -Math.PI / 2});
        drawText(ctx, 'Bliss Excess', a.left - 21, mid, {size: 13, rot: -Math.PI / 2});
        drawText(ctx, 'Antagonism', a.left - 23, a.bottom - 57, {size: 11, rot: -Math.PI / 2});
        B.notes.forEach(n => drawText(ctx, n[0], xs.getPixelForValue(n[1]), ys.getPixelForValue(n[2]),
          {size: 10.2, align: 'left', color: '#111'}));
        drawText(ctx, B.pText, xs.getPixelForValue(B.pPos[0]), ys.getPixelForValue(B.pPos[1]), {size: 12.4, color: '#111'});
      }
    }]
  });
}

bliss('cD', {res: dResistance, sens: dSensitivity, highlight: dHighlight, hiColor: '#ee1111', medians: dMedians,
  notes: dNotes, ymin: -0.172, ymax: 0.171, yticks: dYTicks, ylabels: dYLabels, pText: 'P=0.011', pPos: [1.57, -0.161],
  padL: 34, axisW: 35.7});
bliss('cE', {res: eResistance, sens: eSensitivity, highlight: eHighlight, hiColor: '#1111ee', medians: eMedians,
  notes: eNotes, arrows: eArrows, ymin: -0.236, ymax: 0.234, yticks: eYTicks, ylabels: eYLabels, pText: 'P=0.103',
  pPos: [1.5, 0.220], padL: 32.3, axisW: 33.7});

// ---- panel f ----
function doseChart(id, F) {
  const line = (vals, col) => ({
    type: 'line', data: fConcentration.map((c, i) => ({x: c, y: vals[i]})), borderColor: col, borderWidth: 0.9,
    pointRadius: 2.3, pointBorderWidth: 0.9, pointBorderColor: col, pointBackgroundColor: 'rgba(255,255,255,0)'
  });
  new Chart(document.getElementById(id), {
    type: 'line',
    data: {datasets: [line(F.blue, '#4848f0'), line(F.green, '#3dd83d'), line(F.black, '#3a3a3a')]},
    options: {
      layout: {padding: {left: 0, right: 17, top: F.padT, bottom: F.padB}},
      scales: {
        x: {
          type: 'logarithmic', min: 0.0036, max: 1.645,
          afterBuildTicks: setTicks(fXTicks), afterFit: fixH(16),
          border: {display: false},
          grid: {display: true, drawOnChartArea: false, drawTicks: true, tickLength: 3, color: '#444'},
          ticks: {autoSkip: false, maxRotation: 0, padding: 1, font: {size: 8}, color: '#222', callback: v => String(v)}
        },
        y: {
          type: 'linear', min: -0.04, max: 1.14,
          afterBuildTicks: setTicks(fYTicks), afterFit: fixW(48),
          border: {display: false},
          grid: {display: true, drawOnChartArea: false, drawTicks: true, tickLength: 3, color: '#444'},
          ticks: {padding: 2, font: {size: 9}, color: '#222', callback: v => v.toFixed(1)}
        }
      }
    },
    plugins: [{
      id: 'doseDeco',
      afterDraw(chart) {
        const ctx = chart.ctx, a = chart.chartArea;
        frame(chart, '#555');
        const main = F.title[0], sub = F.title[1];
        const w1 = textWidth(main, 8.8), w2 = textWidth(sub, 6.5);
        const x0 = (a.left + a.right) / 2 - (w1 + w2) / 2, y0 = a.top - 9;
        drawText(ctx, main, x0, y0, {size: 8.8, align: 'left', color: '#111'});
        drawText(ctx, sub, x0 + w1, y0 + 2.5, {size: 6.5, align: 'left', color: '#111'});
        drawText(ctx, '1 - Activity', a.left - 26, (a.top + a.bottom) / 2, {size: 11.5, rot: -Math.PI / 2});
        if (F.xTitle) drawText(ctx, F.xTitle, (a.left + a.right) / 2, a.bottom + 21, {size: 10.2});
      }
    }]
  });
}
doseChart('cF1', {title: ['Disulfiram + 5FU at  IC', '40'], black: f1Black, green: f1Green, blue: f1Blue, padT: 23.3, padB: 4.7});
doseChart('cF2', {title: ['Danusertib + 5FU at  IC', '40'], black: f2Black, green: f2Green, blue: f2Blue, padT: 22.3, padB: 7.3});
doseChart('cF3', {title: ['Colchicine + SN38 at  IC', '40'], black: f3Black, green: f3Green, blue: f3Blue, padT: 22.7, padB: 30,
  xTitle: 'Concentration (\u03bcM)'});
</script>
</body>
</html>
